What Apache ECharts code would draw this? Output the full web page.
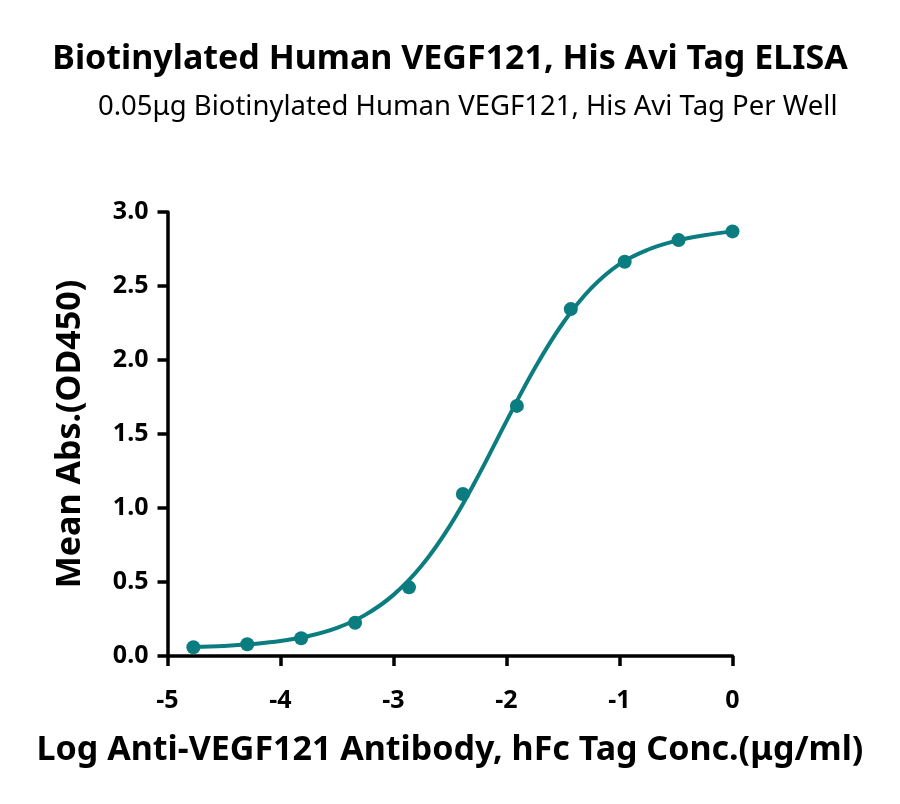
<!DOCTYPE html>
<html>
<head>
<meta charset="utf-8">
<script src="https://cdn.jsdelivr.net/npm/echarts@6/dist/echarts.min.js"></script>
<style>
html,body{margin:0;padding:0;background:#fff;}
#chart{width:900px;height:804px;}
</style>
</head>
<body>
<div id="chart"></div>
<script>
// Measured points: log10 concentration (µg/ml) and mean absorbance
const logConc = [-4.771, -4.294, -3.817, -3.340, -2.863, -2.386, -1.908, -1.431, -0.954, -0.477, 0];
const meanAbs = [0.059, 0.079, 0.120, 0.225, 0.464, 1.095, 1.690, 2.344, 2.664, 2.810, 2.869];

// Fitted curve
const curveX = [-4.771, -4.5, -4.25, -4.0, -3.75, -3.5, -3.25, -3.0, -2.75, -2.5, -2.25, -2.0, -1.75, -1.5, -1.25, -1.0, -0.75, -0.5, -0.25, 0];
const curveY = [0.061, 0.068, 0.081, 0.101, 0.135, 0.190, 0.278, 0.413, 0.611, 0.881, 1.217, 1.587, 1.944, 2.250, 2.485, 2.648, 2.745, 2.805, 2.843, 2.869];

const xTicks = [-5, -4, -3, -2, -1, 0];
const yTicks = [0.0, 0.5, 1.0, 1.5, 2.0, 2.5, 3.0];

const titleText = 'Biotinylated Human VEGF121, His Avi Tag ELISA';
const subtitleText = '0.05μg Biotinylated Human VEGF121, His Avi Tag Per Well';
const xName = 'Log Anti-VEGF121 Antibody, hFc Tag Conc.(μg/ml)';
const yName = 'Mean Abs.(OD450)';

const color = '#0b7d80';
const font = '"Noto Sans", "Open Sans", sans-serif';

const chart = echarts.init(document.getElementById('chart'), null, {renderer: 'canvas'});
chart.setOption({
  backgroundColor: '#fff',
  animation: false,
  title: [
    {text: titleText, left: 'center', top: 37,
     textStyle: {fontFamily: font, fontWeight: 'bold', fontSize: 34, color: '#000'}},
    {text: subtitleText, left: 93, top: 88,
     textStyle: {fontFamily: font, fontWeight: 'normal', fontSize: 27.5, color: '#000'}}
  ],
  grid: {left: 167.5, right: 167.5, top: 212, bottom: 148, containLabel: false},
  xAxis: {
    type: 'value', min: xTicks[0], max: xTicks[xTicks.length - 1], interval: 1,
    name: xName, nameLocation: 'middle', nameGap: 77,
    nameTextStyle: {fontFamily: font, fontWeight: 'bold', fontSize: 34, color: '#000'},
    axisLine: {show: true, onZero: false, lineStyle: {color: '#000', width: 3.5}},
    axisTick: {show: true, length: 10, lineStyle: {color: '#000', width: 3.5}},
    axisLabel: {fontFamily: font, fontWeight: 'bold', fontSize: 25, color: '#000', margin: 32,
      formatter: v => String(v)},
    splitLine: {show: false}
  },
  yAxis: {
    type: 'value', min: yTicks[0], max: yTicks[yTicks.length - 1], interval: 0.5,
    name: yName, nameLocation: 'middle', nameGap: 80,
    nameTextStyle: {fontFamily: font, fontWeight: 'bold', fontSize: 34, color: '#000'},
    axisLine: {show: true, onZero: false, lineStyle: {color: '#000', width: 3.5}},
    axisTick: {show: true, length: 10, lineStyle: {color: '#000', width: 3.5}},
    axisLabel: {fontFamily: font, fontWeight: 'bold', fontSize: 25, color: '#000', margin: 19,
      formatter: v => v.toFixed(1)},
    splitLine: {show: false}
  },
  series: [
    {
      type: 'line', name: 'fit',
      data: curveX.map((x, i) => [x, curveY[i]]),
      smooth: 0.4, showSymbol: false, symbol: 'none',
      lineStyle: {color: color, width: 4}, z: 2
    },
    {
      type: 'scatter', name: 'data',
      data: logConc.map((x, i) => [x, meanAbs[i]]),
      symbol: 'circle', symbolSize: 14,
      itemStyle: {color: color, opacity: 1}, z: 3
    }
  ]
});
</script>
</body>
</html>
